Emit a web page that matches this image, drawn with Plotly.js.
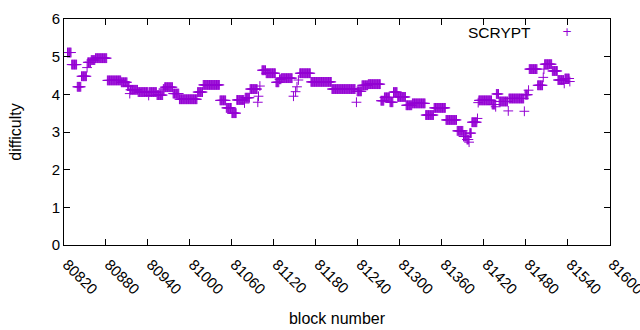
<!DOCTYPE html>
<html>
<head>
<meta charset="utf-8">
<script src="https://cdn.plot.ly/plotly-3.0.1.min.js"></script>
<style>html,body{margin:0;padding:0;background:#fff;}#chart{width:640px;height:330px;}</style>
</head>
<body>
<div id="chart"></div>
<script>
// Runs of consecutive SCRYPT blocks sharing (approximately) one difficulty value
const runFirstBlock = [80825,80831,80839,80845,80853,80854,80859,80865,80882,80902,80911,80914,80915,80926,80941,80942,80953,80962,80964,80976,80985,81011,81019,81043,81052,81060,81067,81078,81079,81086,81097,81098,81100,81103,81109,81123,81128,81131,81148,81151,81153,81155,81157,81173,81203,81238,81239,81246,81255,81273,81278,81286,81291,81297,81309,81318,81337,81349,81366,81382,81391,81396,81399,81400,81403,81411,81412,81413,81432,81437,81438,81442,81455,81456,81478,81479,81484,81485,81497,81505,81506,81507,81518,81526,81535,81536,81543];
const runLastBlock  = [80830,80838,80844,80852,80853,80858,80864,80881,80901,80910,80913,80914,80925,80940,80941,80952,80961,80963,80975,80984,81010,81018,81042,81051,81059,81066,81077,81078,81085,81096,81097,81098,81100,81108,81122,81127,81130,81146,81148,81151,81153,81155,81172,81202,81236,81238,81245,81254,81272,81277,81285,81290,81296,81308,81317,81336,81348,81365,81381,81390,81395,81398,81399,81402,81410,81411,81412,81431,81436,81437,81441,81454,81455,81477,81478,81483,81484,81496,81504,81505,81506,81517,81525,81534,81535,81542,81543];
const runDifficulty = [5.11,4.79,4.20,4.48,4.71,4.85,4.91,4.96,4.37,4.32,4.22,4.02,4.12,4.06,3.97,4.06,3.98,4.14,4.19,4.02,3.87,4.06,4.25,3.84,3.64,3.50,3.85,3.77,3.91,4.14,3.79,3.95,4.22,4.64,4.56,4.32,4.40,4.43,3.95,4.07,4.20,4.38,4.56,4.33,4.14,3.79,4.08,4.24,4.27,3.83,3.92,3.79,4.06,3.93,3.71,3.76,3.45,3.64,3.32,3.03,2.88,2.80,2.73,2.97,3.26,3.36,3.78,3.84,3.73,3.67,4.01,3.81,3.56,3.89,3.55,3.99,4.11,4.67,4.24,4.45,4.67,4.80,4.62,4.38,4.29,4.42,4.34];

const xTickValues = [80820,80880,80940,81000,81060,81120,81180,81240,81300,81360,81420,81480,81540,81600];
const seriesName = "SCRYPT";
const xTitle = "block number";
const yTitle = "difficulty";

const xs = [], ys = [];
for (let i = 0; i < runFirstBlock.length; i++) {
  for (let b = runFirstBlock[i]; b <= runLastBlock[i]; b++) {
    xs.push(b);
    ys.push(runDifficulty[i]);
  }
}

const purple = "#9400d3";
const fam = "Liberation Sans, Arial, sans-serif";
const tickFont = {family: fam, size: 15, color: "#000"};
const titleFont = {family: fam, size: 16, color: "#000"};

const trace = {
  x: xs, y: ys, type: "scatter", mode: "markers", name: seriesName,
  marker: {symbol: "cross-thin", size: 7, color: purple, line: {color: purple, width: 1}},
  showlegend: false, hoverinfo: "x+y"
};

const layout = {
  width: 640, height: 330,
  margin: {l: 64, r: 30, t: 19, b: 85},
  paper_bgcolor: "#fff", plot_bgcolor: "#fff",
  font: tickFont,
  xaxis: {
    range: [80820, 81600.4], tickmode: "array", tickvals: xTickValues,
    ticktext: xTickValues.map(String),
    tickangle: 45, ticks: "inside", ticklen: 6, tickcolor: "#000",
    ticklabelshift: 3, ticklabelstandoff: 4, ticklabeloverflow: "allow",
    showline: true, linecolor: "#000", linewidth: 1, mirror: "ticks",
    showgrid: false, zeroline: false, tickfont: tickFont,
    title: {text: xTitle, font: titleFont, standoff: 16}
  },
  yaxis: {
    range: [0, 6], tick0: 0, dtick: 1, tickmode: "linear",
    ticks: "inside", ticklen: 6, tickcolor: "#000",
    showline: true, linecolor: "#000", linewidth: 1, mirror: "ticks",
    showgrid: false, zeroline: false, tickfont: tickFont,
    title: {text: yTitle, font: titleFont, standoff: 26}
  },
  annotations: [
    {xref: "paper", yref: "paper", x: 0.859, y: 0.942, xanchor: "right", yanchor: "middle",
     text: seriesName, showarrow: false, font: {family: fam, size: 15.5, color: "#000"}},
    {xref: "paper", yref: "paper", x: 0.921, y: 0.942, xanchor: "center", yanchor: "middle",
     text: "+", showarrow: false, font: {family: "DejaVu Sans", size: 12, color: purple}}
  ]
};

Plotly.newPlot("chart", [trace], layout, {staticPlot: true, displayModeBar: false});
</script>
</body>
</html>
